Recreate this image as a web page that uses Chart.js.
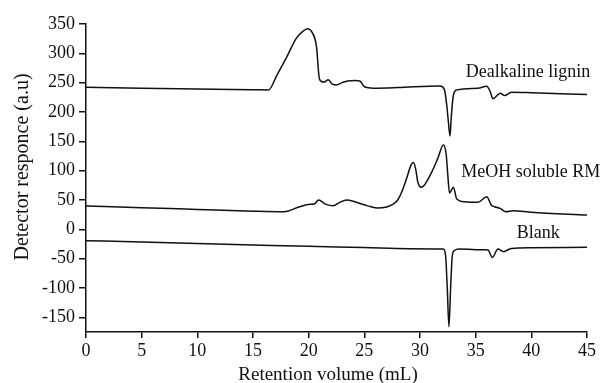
<!DOCTYPE html>
<html>
<head>
<meta charset="utf-8">
<script src="https://cdn.jsdelivr.net/npm/chart.js@4/dist/chart.umd.min.js"></script>
<style>
html,body{margin:0;padding:0;background:#fff;}
#wrap{width:610px;height:383px;}
</style>
</head>
<body>
<div id="wrap"><canvas id="c" width="610" height="383"></canvas></div>
<script>
// Dealkaline lignin
const ligninX = [0, 5, 10, 15, 16.4, 17.15, 18.05, 18.9, 19.5, 19.9, 20.3, 20.7, 20.95, 21.15, 21.4, 21.75, 22.1, 22.5, 23.0, 23.5, 24.2, 24.6, 25.0, 25.8, 28, 31.8, 32.2, 32.4, 32.55, 32.7, 32.8, 33.0, 33.3, 35.2, 36.0, 36.3, 36.55, 37.2, 37.6, 38.2, 40, 45];
const ligninY = [242, 240.5, 239, 238, 237.7, 263, 294.5, 326, 338, 342, 336, 312, 258, 252, 251, 255, 248, 246, 250, 253, 253.6, 253, 243, 240.6, 241.6, 244.5, 237.7, 212, 183, 159, 189, 229, 237.7, 240.6, 244, 235, 222.4, 232, 228, 233.8, 233, 229.7];
// MeOH soluble RM
const meohX = [0, 5, 10, 15, 17.8, 19.2, 20.1, 20.5, 20.9, 21.5, 22.2, 22.8, 23.4, 24.0, 24.6, 25.3, 26.1, 27.0, 27.5, 28.0, 28.3, 28.8, 29.2, 29.4, 29.6, 29.8, 30.1, 30.4, 31.0, 31.6, 32.1, 32.35, 32.5, 32.65, 33.0, 33.3, 34.0, 35.2, 36.0, 36.4, 36.7, 37.2, 37.7, 38.4, 40, 45];
const meohY = [39.8, 37, 34, 31, 30, 38.6, 42.6, 43, 50, 43, 40, 46, 50, 48, 44, 40, 36.5, 38, 42, 50, 61, 87, 110, 114, 104, 81, 71.7, 75.6, 95.5, 121, 143.8, 128, 92, 62, 71.7, 51.7, 47, 46, 55.6, 41.5, 38.6, 35.8, 30, 31.7, 29, 24.4];
// Blank
const blankX = [0, 5, 10, 15, 20, 25, 29, 32.1, 32.3, 32.45, 32.6, 32.75, 32.9, 33.1, 33.5, 35.8, 36.1, 36.5, 37.0, 37.5, 38.2, 40, 45];
const blankY = [-19.4, -21.5, -24, -26.5, -29, -31, -33, -33.6, -45, -100, -166, -100, -45, -36, -33.6, -35, -35.3, -47.8, -33.6, -38, -32.5, -31.5, -30.7];

const xTicks = [0, 5, 10, 15, 20, 25, 30, 35, 40, 45];
const yTicks = [-150, -100, -50, 0, 50, 100, 150, 200, 250, 300, 350];

const seriesNames = ['Dealkaline lignin', 'MeOH soluble RM', 'Blank'];
const labelX = [39.7, 33.7, 38.7];
const labelY = [268, 98, -6];
const labelAlign = ['center', 'left', 'left'];

const xTitle = 'Retention volume (mL)';
const yTitle = 'Detector responce (a.u)';

const FONT = '"Liberation Serif", "DejaVu Serif", serif';

function pts(xs, ys){ return xs.map((x,i)=>({x:x, y:ys[i]})); }

const labelPlugin = {
  id: 'seriesLabels',
  afterDatasetsDraw(chart){
    const ctx = chart.ctx;
    const xs = chart.scales.x, ys = chart.scales.y;
    ctx.save();
    ctx.fillStyle = '#111';
    ctx.font = '18px ' + FONT;
    ctx.textBaseline = 'middle';
    seriesNames.forEach((t,i)=>{
      ctx.textAlign = labelAlign[i];
      ctx.fillText(t, xs.getPixelForValue(labelX[i]), ys.getPixelForValue(labelY[i]));
    });
    // axis titles
    ctx.font = '19px ' + FONT;
    ctx.textAlign = 'center';
    ctx.textBaseline = 'alphabetic';
    ctx.fillText(xTitle, 328, 380);
    ctx.translate(28, 167);
    ctx.rotate(-Math.PI/2);
    ctx.font = '20px ' + FONT;
    ctx.fillText(yTitle, 0, 0);
    ctx.restore();
  }
};

const lineStyle = {borderColor:'#111', borderWidth:1.5, pointRadius:0, fill:false, cubicInterpolationMode:'monotone'};

new Chart(document.getElementById('c'), {
  type: 'line',
  data: {
    datasets: [
      Object.assign({label: seriesNames[0], data: pts(ligninX, ligninY)}, lineStyle),
      Object.assign({label: seriesNames[1], data: pts(meohX, meohY)}, lineStyle),
      Object.assign({label: seriesNames[2], data: pts(blankX, blankY)}, lineStyle)
    ]
  },
  options: {
    responsive: false,
    devicePixelRatio: 1,
    animation: false,
    parsing: false,
    layout: {padding: {top: 24, right: 23, left: 0, bottom: 0}},
    plugins: {legend: {display: false}, tooltip: {enabled: false}},
    scales: {
      x: {
        type: 'linear', min: 0, max: 45,
        afterBuildTicks: s => { s.ticks = xTicks.map(v => ({value: v})); },
        afterFit: s => { s.height = 51; },
        border: {color: '#111', width: 1.5},
        grid: {drawOnChartArea: false, color: '#111', tickLength: 6, lineWidth: 1.5},
        ticks: {color: '#111', font: {family: FONT, size: 18}, padding: 2, maxRotation: 0, callback: v => String(v)}
      },
      y: {
        type: 'linear', min: -175, max: 350,
        afterBuildTicks: s => { s.ticks = yTicks.map(v => ({value: v})); },
        afterFit: s => { s.width = 86; },
        border: {color: '#111', width: 1.5},
        grid: {drawOnChartArea: false, color: '#111', tickLength: 7, lineWidth: 1.5},
        ticks: {color: '#111', font: {family: FONT, size: 18}, padding: 4, callback: v => String(v)}
      }
    }
  },
  plugins: [labelPlugin]
});
</script>
</body>
</html>
